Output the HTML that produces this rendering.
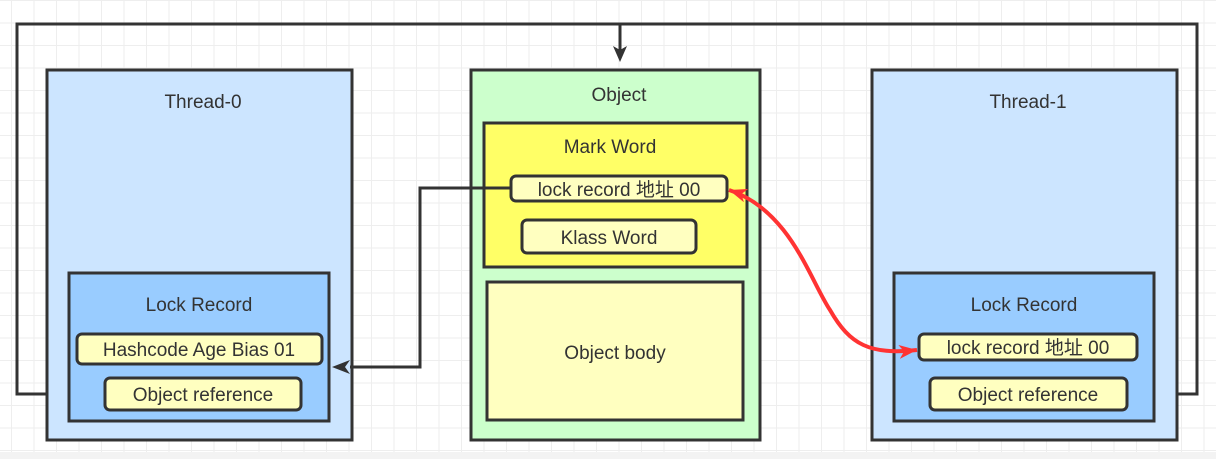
<!DOCTYPE html>
<html><head><meta charset="utf-8"><style>
html,body{margin:0;padding:0;}
body{width:1216px;height:459px;overflow:hidden;background-color:#fff;
background-image:linear-gradient(#eeeeee 1px,transparent 1px),linear-gradient(90deg,#eeeeee 1px,transparent 1px);
background-size:22.5px 22.5px;background-position:11px 0px;}
svg{position:absolute;left:0;top:0;}
text{font-family:"Liberation Sans","Noto Sans CJK SC",sans-serif;font-size:19px;fill:#333;text-anchor:middle;}
</style></head><body>
<svg width="1216" height="459" viewBox="0 0 1216 459">
<defs>
<marker id="ab" markerWidth="10" markerHeight="10" refX="9" refY="5" orient="auto" markerUnits="userSpaceOnUse"><path d="M0,0 L10,5 L0,10 L3,5 Z" fill="#333"/></marker>
<marker id="ar" markerWidth="20" markerHeight="14" refX="18" refY="7" orient="auto" markerUnits="userSpaceOnUse"><path d="M0,0 L18,7 L0,14 L5,7 Z" fill="#ff3333"/></marker>
<marker id="ars" markerWidth="20" markerHeight="14" refX="2" refY="7" orient="auto" markerUnits="userSpaceOnUse"><path d="M20,0 L2,7 L20,14 L15,7 Z" fill="#ff3333"/></marker>
</defs>
<rect x="0" y="452" width="1216" height="7" fill="#f3f3f3"/>
<!-- outer loop -->
<path d="M105,394 H17 V24 H1197 V394 H1127" fill="none" stroke="#333" stroke-width="3"/>
<path d="M620,24 V50" stroke="#333" stroke-width="3"/>
<path d="M613,46 L620,62 L627,46 L620,50 Z" fill="#333"/>
<!-- Thread-0 -->
<rect x="47" y="70" width="305" height="370" fill="#cce5ff" stroke="#333" stroke-width="3"/>
<text x="203" y="108">Thread-0</text>
<rect x="69" y="273" width="260" height="148" fill="#99ccff" stroke="#333" stroke-width="3"/>
<text x="199" y="311">Lock Record</text>
<rect x="77" y="334" width="245" height="30" rx="5" fill="#ffffc0" stroke="#333" stroke-width="3"/>
<text x="199" y="356">Hashcode Age Bias 01</text>
<rect x="105" y="378" width="196" height="32" rx="5" fill="#ffffc0" stroke="#333" stroke-width="3"/>
<text x="203" y="401">Object reference</text>
<!-- Object -->
<rect x="471" y="70" width="289" height="370" fill="#ccffcc" stroke="#333" stroke-width="3"/>
<text x="619" y="101">Object</text>
<rect x="484" y="123" width="263" height="144" fill="#ffff66" stroke="#333" stroke-width="3"/>
<text x="610" y="153">Mark Word</text>
<rect x="511" y="176" width="216" height="25" rx="5" fill="#ffffc0" stroke="#333" stroke-width="3"/>
<text x="619" y="196">lock record 地址 00</text>
<rect x="522" y="220" width="174" height="33" rx="5" fill="#ffffc0" stroke="#333" stroke-width="3"/>
<text x="609" y="244">Klass Word</text>
<rect x="487" y="282" width="256" height="138" fill="#ffffc0" stroke="#333" stroke-width="3"/>
<text x="615" y="359">Object body</text>
<!-- Thread-1 -->
<rect x="872" y="70" width="305" height="370" fill="#cce5ff" stroke="#333" stroke-width="3"/>
<text x="1028" y="108">Thread-1</text>
<rect x="894" y="273" width="260" height="148" fill="#99ccff" stroke="#333" stroke-width="3"/>
<text x="1024" y="311">Lock Record</text>
<rect x="919" y="334" width="218" height="26" rx="5" fill="#ffffc0" stroke="#333" stroke-width="3"/>
<text x="1028" y="354">lock record 地址 00</text>
<rect x="930" y="378" width="197" height="32" rx="5" fill="#ffffc0" stroke="#333" stroke-width="3"/>
<text x="1028" y="401">Object reference</text>
<!-- black connector -->
<path d="M511,188 H420 V367 H350" fill="none" stroke="#333" stroke-width="3"/>
<path d="M350,360 L332,367 L350,374 L345,367 Z" fill="#333"/>
<!-- red curve -->
<path d="M729,190 C790,210 810,280 830,310 C850,345 870,355 917,350" fill="none" stroke="#ff3333" stroke-width="4" marker-start="url(#ars)" marker-end="url(#ar)"/>
</svg>
</body></html>
